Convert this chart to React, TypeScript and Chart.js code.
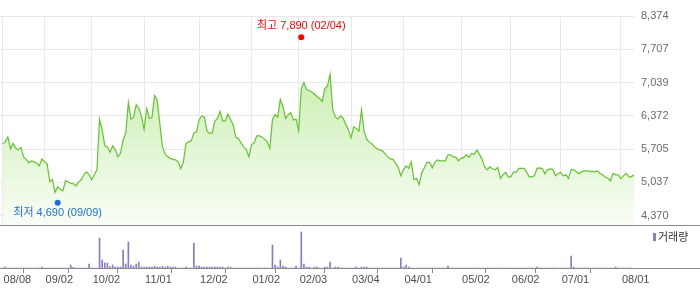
import React, { useEffect, useRef } from 'react';
import { Chart, registerables } from 'chart.js';
Chart.register(...registerables);

// ---- data ----
const prices: number[] = [
  5810, 5850, 5950, 5710, 5820, 5720, 5690, 5740, 5550, 5500,
  5430, 5470, 5450, 5420, 5370, 5510, 5450, 5410, 5050, 5100,
  4840, 4950, 4900, 4870, 5070, 5050, 5020, 5010, 4970, 5050,
  5090, 5190, 5250, 5190, 5090, 5190, 5290, 6300, 6090, 5770,
  5750, 5640, 5770, 5690, 5550, 5620, 5890, 6020, 6640, 6310,
  6340, 6600, 6520, 6360, 6100, 6520, 6320, 6340, 6780, 6680,
  6220, 5750, 5610, 5550, 5520, 5500, 5490, 5450, 5310, 5450,
  5820, 5850, 5870, 6030, 6050, 6290, 6370, 6350, 6070, 6020,
  6030, 6270, 6320, 6460, 6270, 6270, 6410, 6300, 6190, 5940,
  5920, 5830, 5750, 5700, 5550, 5790, 5830, 5970, 5970, 5950,
  5900, 5850, 5720, 6300, 6400, 6350, 6700, 6560, 6320, 6390,
  6440, 6290, 6310, 6070, 6920, 7040, 6900, 6880, 6850, 6810,
  6760, 6720, 6660, 6920, 6970, 7210, 6490, 6350, 6310, 6370,
  6320, 6200, 6090, 5930, 6150, 6120, 6070, 6490, 6050, 5900,
  5840, 5810, 5750, 5710, 5690, 5670, 5610, 5550, 5510, 5500,
  5420, 5340, 5170, 5290, 5370, 5320, 5450, 5090, 5120, 4990,
  5230, 5330, 5440, 5440, 5330, 5440, 5490, 5470, 5470, 5470,
  5590, 5590, 5550, 5540, 5470, 5520, 5540, 5590, 5540, 5620,
  5600, 5690, 5600, 5500, 5350, 5290, 5350, 5310, 5290, 5340,
  5120, 5190, 5240, 5150, 5150, 5250, 5240, 5320, 5320, 5320,
  5250, 5150, 5150, 5170, 5320, 5330, 5310, 5210, 5290, 5310,
  5300, 5170, 5210, 5240, 5170, 5190, 5120, 5300, 5290, 5250,
  5210, 5250, 5270, 5270, 5260, 5260, 5250, 5270, 5220, 5190,
  5140, 5120, 5070, 5220, 5190, 5190, 5110, 5170, 5220, 5150,
  5150, 5190,
];

const volumes: number[] = [
  0, 1000, 0, 0, 0, 0, 0, 0, 0, 0,
  0, 0, 0, 0, 0, 1000, 0, 0, 0, 0,
  0, 0, 0, 0, 0, 0, 3000, 700, 0, 0,
  0, 0, 0, 4000, 0, 0, 0, 30000, 8000, 5000,
  5000, 1300, 3000, 1000, 1000, 1000, 18000, 4000, 26000, 3000,
  2000, 4000, 6000, 1000, 1000, 1000, 1000, 1000, 1700, 1000,
  1000, 1700, 1000, 1700, 1000, 1000, 1000, 0, 0, 0,
  1000, 0, 0, 25000, 2000, 2000, 1000, 1000, 1000, 1000,
  1000, 1000, 1000, 1000, 1000, 0, 1000, 1000, 0, 0,
  0, 0, 0, 0, 0, 0, 0, 0, 0, 0,
  0, 0, 0, 23000, 3000, 1000, 8000, 2000, 1000, 0,
  0, 0, 2000, 0, 36000, 4000, 1000, 1000, 0, 1000,
  1000, 0, 0, 1000, 1000, 6000, 0, 1000, 1000, 0,
  0, 0, 0, 0, 0, 1000, 0, 1000, 1000, 1000,
  0, 0, 0, 0, 0, 0, 0, 0, 0, 0,
  0, 0, 10000, 1000, 3000, 1000, 0, 0, 0, 0,
  0, 0, 0, 0, 0, 0, 0, 0, 0, 0,
  2000, 0, 0, 0, 0, 0, 0, 0, 0, 0,
  0, 0, 0, 0, 0, 0, 0, 0, 0, 0,
  0, 0, 0, 0, 0, 0, 0, 0, 0, 0,
  0, 0, 0, 0, 1000, 0, 0, 0, 0, 0,
  0, 0, 0, 0, 0, 0, 0, 12000, 1000, 0,
  0, 0, 0, 0, 0, 0, 0, 0, 0, 0,
  0, 0, 0, 0, 1000, 0, 0, 0, 0, 0,
  0, 0,
];

const tickIndex: number[] = [0, 16, 34, 54, 75, 95, 113, 133, 153, 175, 194, 213, 236];
const tickLabels: string[] = ['08/08', '09/02', '10/02', '11/01', '12/02', '01/02', '02/03', '03/04', '04/01', '05/02', '06/02', '07/01', '08/01'];
const priceTicks: number[] = [4370, 5037, 5705, 6372, 7039, 7707, 8374];
const priceMin = 4184;
const priceMax = 8374;
const volumeMax = 42000;
const highPoint = { index: 114, value: 7890, label: '최고 7,890 (02/04)' };
const lowPoint = { index: 21, value: 4690, label: '최저 4,690 (09/09)' };
const volumeLegend = '거래량';

const FONT = "'Liberation Sans', Arial, 'Noto Sans CJK KR', sans-serif";
const LINE = '#62c52b';
const GRID = '#e8e8e8';
const AXIS = '#8a8a8a';
const VOL = '#8d79c8';
const RIGHT_W = 66;

export default function App() {
  const topRef = useRef<HTMLCanvasElement | null>(null);
  const botRef = useRef<HTMLCanvasElement | null>(null);

  useEffect(() => {
    const xMin = -1;
    const xMax = prices.length - 1;

    const markPlugin = {
      id: 'marks',
      afterDatasetsDraw(chart: any) {
        const { ctx } = chart;
        const xs = chart.scales.x;
        const ys = chart.scales.y;
        ctx.save();
        ctx.font = `11px ${FONT}`;
        ctx.textAlign = 'center';
        ctx.textBaseline = 'middle';
        // high
        let x = xs.getPixelForValue(highPoint.index);
        let y = ys.getPixelForValue(highPoint.value) - 3;
        ctx.fillStyle = '#ff0000';
        ctx.beginPath();
        ctx.arc(x, y, 3, 0, Math.PI * 2);
        ctx.fill();
        ctx.fillText(highPoint.label, x, y - 11);
        // low
        x = xs.getPixelForValue(lowPoint.index);
        y = ys.getPixelForValue(lowPoint.value) + 3;
        ctx.fillStyle = '#1c6fd8';
        ctx.beginPath();
        ctx.arc(x, y, 3, 0, Math.PI * 2);
        ctx.fill();
        ctx.fillText(lowPoint.label, x, y + 10);
        ctx.restore();
      },
    };

    const top = new Chart(topRef.current as HTMLCanvasElement, {
      type: 'line',
      data: {
        datasets: [
          {
            data: prices.map((v, i) => ({ x: i, y: v })),
            borderColor: LINE,
            borderWidth: 1.2,
            pointRadius: 0,
            tension: 0,
            fill: 'start',
            backgroundColor: (c: any) => {
              const ch = c.chart;
              const area = ch.chartArea;
              if (!area) return 'rgba(0,0,0,0)';
              const g = ch.ctx.createLinearGradient(0, area.top, 0, area.bottom);
              g.addColorStop(0, '#b9e898');
              g.addColorStop(1, '#f9fdf6');
              return g;
            },
          },
        ],
      },
      options: {
        responsive: false,
        animation: false,
        events: [],
        layout: { padding: { top: 16, left: 0, right: 0, bottom: 0 } },
        plugins: { legend: { display: false }, tooltip: { enabled: false } },
        scales: {
          x: {
            type: 'linear',
            min: xMin,
            max: xMax,
            afterBuildTicks: (s: any) => {
              s.ticks = tickIndex.map((v) => ({ value: v }));
            },
            ticks: { display: false },
            grid: { color: GRID, drawTicks: false, lineWidth: 1 },
            border: { display: false },
          },
          y: {
            type: 'linear',
            position: 'right',
            min: priceMin,
            max: priceMax,
            afterBuildTicks: (s: any) => {
              s.ticks = priceTicks.map((v) => ({ value: v }));
            },
            afterFit: (s: any) => {
              s.width = RIGHT_W;
              s.paddingTop = 0;
              s.paddingBottom = 0;
            },
            ticks: {
              padding: 7,
              color: '#6b6b6b',
              font: { family: FONT, size: 11 },
              callback: (v: any) => Number(v).toLocaleString('en-US'),
            },
            grid: { color: GRID, drawTicks: false },
            border: { display: false },
          },
        },
      },
      plugins: [markPlugin],
    } as any);

    const volPlugin = {
      id: 'volDeco',
      afterDraw(chart: any) {
        const { ctx, chartArea, width } = chart;
        ctx.save();
        ctx.strokeStyle = AXIS;
        ctx.lineWidth = 1;
        ctx.beginPath();
        ctx.moveTo(0, 0.5);
        ctx.lineTo(width, 0.5);
        const by = Math.round(chartArea.bottom) + 0.5;
        ctx.moveTo(0, by);
        ctx.lineTo(width, by);
        ctx.stroke();
        // legend
        ctx.fillStyle = VOL;
        ctx.fillRect(653, 8, 3, 8);
        ctx.fillStyle = '#333333';
        ctx.font = `11px ${FONT}`;
        ctx.textAlign = 'left';
        ctx.textBaseline = 'middle';
        ctx.fillText(volumeLegend, 658, 12.5);
        ctx.restore();
      },
    };

    const bot = new Chart(botRef.current as HTMLCanvasElement, {
      type: 'bar',
      data: {
        datasets: [
          {
            data: volumes.map((v, i) => ({ x: i, y: v })),
            backgroundColor: VOL,
            barThickness: 1,
            borderWidth: 0,
          },
        ],
      },
      options: {
        responsive: false,
        animation: false,
        events: [],
        layout: { padding: { top: 1, left: 0, right: 0, bottom: 2.8 } },
        plugins: { legend: { display: false }, tooltip: { enabled: false } },
        scales: {
          x: {
            type: 'linear',
            min: xMin,
            max: xMax,
            offset: false,
            afterBuildTicks: (s: any) => {
              s.ticks = tickIndex.map((v) => ({ value: v }));
            },
            ticks: {
              align: 'start',
              padding: 0,
              labelOffset: 1,
              maxRotation: 0,
              autoSkip: false,
              color: '#4d4d4d',
              font: { family: FONT, size: 11 },
              callback: (v: any) => {
                const k = tickIndex.indexOf(Number(v));
                return k >= 0 ? tickLabels[k] : '';
              },
            },
            grid: { drawOnChartArea: false, drawTicks: true, tickLength: 5, color: AXIS },
            border: { display: false },
          },
          y: {
            type: 'linear',
            position: 'right',
            min: 0,
            max: volumeMax,
            afterFit: (s: any) => {
              s.width = RIGHT_W;
              s.paddingTop = 0;
              s.paddingBottom = 0;
            },
            ticks: { display: false },
            grid: { display: false },
            border: { display: false },
          },
        },
      },
      plugins: [volPlugin],
    } as any);

    return () => {
      top.destroy();
      bot.destroy();
    };
  }, []);

  return (
    <div style={{ position: 'fixed', left: 0, top: 0, width: 700, height: 289, background: '#ffffff' }}>
      <canvas ref={topRef} width={700} height={225} style={{ position: 'absolute', left: 0, top: 0, width: 700, height: 225 }} />
      <canvas ref={botRef} width={700} height={64} style={{ position: 'absolute', left: 0, top: 225, width: 700, height: 64 }} />
    </div>
  );
}
